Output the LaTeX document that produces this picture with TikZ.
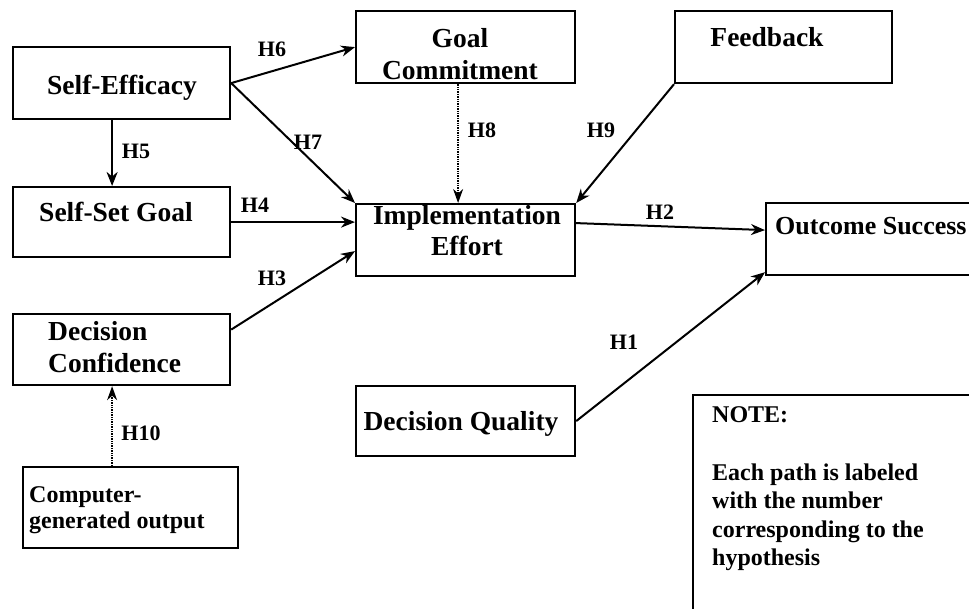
\documentclass[tikz,border=0pt]{standalone}
\usepackage{fontspec}
\setmainfont{Liberation Serif}
\usetikzlibrary{arrows.meta}
\begin{document}
\begin{tikzpicture}[x=1pt,y=-1pt,
  box/.style={draw, line width=2.2pt, inner sep=0pt, anchor=north west},
  txt/.style={inner sep=0pt, anchor=base, font=\fontsize{27.5}{32}\selectfont\bfseries},
  ltxt/.style={inner sep=0pt, anchor=base west, font=\fontsize{27.5}{32}\selectfont\bfseries},
  stxt/.style={inner sep=0pt, anchor=base west, font=\fontsize{24}{29}\selectfont\bfseries},
  lbl/.style={inner sep=0pt, anchor=base, font=\fontsize{22}{26}\selectfont\bfseries},
  link/.style={line width=2pt, -{Stealth[length=14pt,width=11pt,inset=4.5pt]}},
  dlink/.style={line width=1.4pt, densely dotted, -{Stealth[length=14pt,width=10pt,inset=4.5pt]}}]
\useasboundingbox (0,0) rectangle (969,609);
\clip (0,0) rectangle (969,609);

% boxes
\node[box, minimum width=217pt, minimum height=72pt] (se)  at (12,46)  {};
\node[box, minimum width=217pt, minimum height=70pt] (ssg) at (12,186) {};
\node[box, minimum width=217pt, minimum height=71pt] (dc)  at (12,313) {};
\node[box, minimum width=215pt, minimum height=81pt] (cgo) at (22,466) {};
\node[box, minimum width=219pt, minimum height=72pt] (gc)  at (355,10) {};
\node[box, minimum width=217pt, minimum height=72pt] (fb)  at (674,10) {};
\node[box, minimum width=219pt, minimum height=72pt] (ie)  at (355,203) {};
\node[box, minimum width=260pt, minimum height=72pt] (os)  at (765,202) {};
\node[box, minimum width=219pt, minimum height=70pt] (dq)  at (355,385) {};
\node[box, minimum width=300pt, minimum height=260pt] (nb) at (692,394) {};

% box texts
\node[txt]  (se-t)   at (122,95)  {Self-Efficacy};
\node[txt]  (ssg-t)  at (116,222) {Self-Set Goal};
\node[ltxt] (dc-t1)  at (48,341)  {Decision};
\node[ltxt] (dc-t2)  at (48,373)  {Confidence};
\node[stxt] (cgo-t1) at (29,502)  {Computer-};
\node[stxt] (cgo-t2) at (29,528)  {generated output};
\node[txt]  (gc-t1)  at (460,48)  {Goal};
\node[txt]  (gc-t2)  at (460,80)  {Commitment};
\node[txt]  (fb-t)   at (767,47)  {Feedback};
\node[txt]  (ie-t1)  at (467,225) {Implementation};
\node[txt]  (ie-t2)  at (467,256) {Effort};
\node[inner sep=0pt, anchor=base west, font=\fontsize{26}{31}\selectfont\bfseries] (os-t) at (775,235) {Outcome Success};
\node[txt]  (dq-t)   at (461,430) {Decision Quality};
\node[stxt] (nb-t1)  at (712,422) {NOTE:};
\node[stxt] (nb-t2)  at (712,480) {Each path is labeled};
\node[stxt] (nb-t3)  at (712,508) {with the number};
\node[stxt] (nb-t4)  at (712,537) {corresponding to the};
\node[stxt] (nb-t5)  at (712,565) {hypothesis};

% paths
\draw[link] (se.east) -- (gc.west);
\draw[link] (se.east) -- (ie.north west);
\draw[link] ([xshift=-9.5pt]se.south) -- ([xshift=-9.5pt]ssg.north);
\draw[link] (ssg.east) -- (ssg.east -| ie.west);
\draw[link] ([yshift=20pt]dc.east) -- ([yshift=-11pt]ie.west);
\draw[dlink] ([xshift=-7.5pt]gc.south) -- ([xshift=-7.5pt]gc.south |- ie.north);
\draw[link] (fb.south west) -- (ie.north east);
\draw[link] ([yshift=17pt]ie.east) -- ([yshift=9pt]os.west);
\draw[link] (dq.east) -- ([yshift=4pt]os.south west);
\draw[dlink] ([xshift=-18.5pt]cgo.north) -- ([xshift=-18.5pt]cgo.north |- dc.south);

% path labels
\node[lbl] (h1)  at (624,350) {H1};
\node[lbl] (h2)  at (660,220) {H2};
\node[lbl] (h3)  at (272,286) {H3};
\node[lbl] (h4)  at (255,213) {H4};
\node[lbl] (h5)  at (136,159) {H5};
\node[lbl] (h6)  at (272,57)  {H6};
\node[lbl] (h7)  at (308,150) {H7};
\node[lbl] (h8)  at (482,138) {H8};
\node[lbl] (h9)  at (601,138) {H9};
\node[lbl] (h10) at (141,440) {H10};
\end{tikzpicture}
\end{document}
